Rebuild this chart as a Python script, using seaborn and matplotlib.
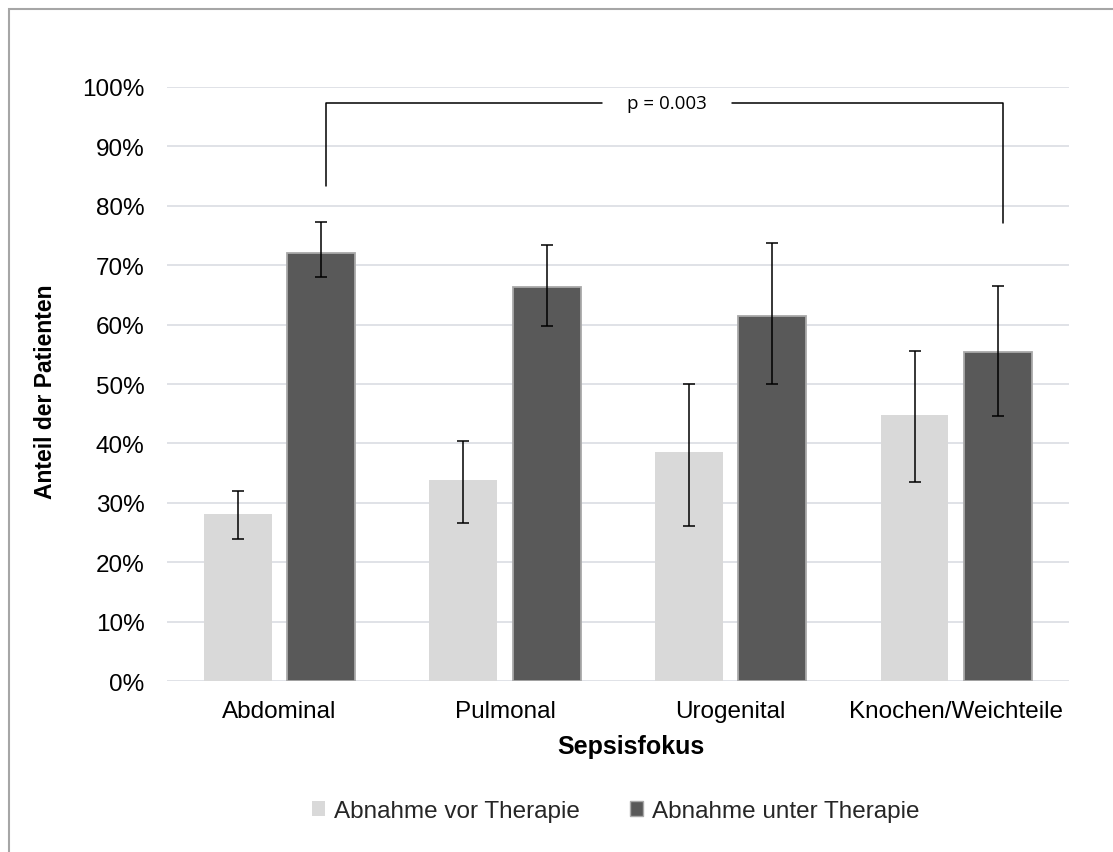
import matplotlib
matplotlib.use("Agg")
import matplotlib.pyplot as plt
from matplotlib.patches import Rectangle, Patch
from matplotlib.ticker import FuncFormatter, MultipleLocator
import numpy as np
import pandas as pd
import seaborn as sns

# Data (percent of patients) with confidence intervals
categories = ["Abdominal", "Pulmonal", "Urogenital", "Knochen/Weichteile"]
groups = ["Abnahme vor Therapie", "Abnahme unter Therapie"]

vor = [28.1, 33.9, 38.6, 44.8]
vor_lo = [24.0, 26.6, 26.1, 33.6]
vor_hi = [32.1, 40.4, 50.0, 55.5]

unter = [72.0, 66.3, 61.4, 55.3]
unter_lo = [68.0, 59.7, 50.0, 44.6]
unter_hi = [77.3, 73.4, 73.7, 66.5]

p_text = "p = 0.003"

LIGHT = "#d9d9d9"
DARK = "#595959"
GRID = "#dadde3"

sns.set_theme(style="white")
plt.rcParams["font.family"] = ["Liberation Sans", "DejaVu Sans"]

df = pd.DataFrame({
    "Sepsisfokus": categories * 2,
    "Anteil": vor + unter,
    "Zeitpunkt": [groups[0]] * len(categories) + [groups[1]] * len(categories),
})

fig = plt.figure(figsize=(11.13, 8.53), dpi=100)
ax = fig.add_axes([0.1498, 0.1999, 0.8107, 0.6975])

sns.barplot(data=df, x="Sepsisfokus", y="Anteil", hue="Zeitpunkt",
            order=categories, hue_order=groups, palette=[LIGHT, DARK],
            width=0.74, gap=0.187, errorbar=None, saturation=1,
            legend=False, ax=ax, zorder=2)

# Bar edges and error bars
lows = [vor_lo, unter_lo]
highs = [vor_hi, unter_hi]
vals = [vor, unter]
bar_containers = list(ax.containers)
for k, cont in enumerate(bar_containers):
    xs = []
    for bar in cont.patches:
        if k == 1:
            bar.set_edgecolor("#a9a9a9")
            bar.set_linewidth(1.3)
        else:
            bar.set_edgecolor("none")
        xs.append(bar.get_x() + bar.get_width() / 2)
    v = np.array(vals[k])
    err = np.vstack([v - np.array(lows[k]), np.array(highs[k]) - v])
    ax.errorbar(xs, v, yerr=err, fmt="none", ecolor="black",
                elinewidth=1.1, capsize=4, capthick=1.1, zorder=3)

ax.set_ylim(0, 100)
ax.set_xlim(-0.5, len(categories) - 0.5)
ax.yaxis.set_major_locator(MultipleLocator(10))
ax.yaxis.set_major_formatter(FuncFormatter(lambda v, _: f"{v:.0f}%"))
ax.grid(axis="y", color=GRID, linewidth=1.2, zorder=0)
ax.set_axisbelow(True)
for s in ax.spines.values():
    s.set_visible(False)
ax.tick_params(axis="both", length=0, labelsize=17.5, colors="black")
ax.tick_params(axis="y", pad=16)
ax.tick_params(axis="x", pad=13)

ax.set_xlabel("Sepsisfokus", fontsize=18, fontweight="bold", color="black")
ax.xaxis.set_label_coords(0.5146, -0.088)
ax.set_ylabel("Anteil der Patienten", fontsize=16.5, fontweight="bold", color="black")
ax.yaxis.set_label_coords(-0.122, 0.489)

# Significance bracket between Abdominal and Knochen/Weichteile
xl, xr = 0.205, 3.209
y_top = 97.2
ax.plot([xl, xl, 1.431], [83.2, y_top, y_top], color="black", lw=1.1,
        clip_on=False, zorder=4)
ax.plot([2.006, xr, xr], [y_top, y_top, 77.0], color="black", lw=1.1,
        clip_on=False, zorder=4)
ax.text(1.718, y_top, p_text, ha="center", va="center", fontsize=13.5,
        family=["Open Sans", "DejaVu Sans"], color="black", zorder=4)

# Legend
handles = [Patch(facecolor=LIGHT, edgecolor="none"),
           Patch(facecolor=DARK, edgecolor="#a9a9a9", linewidth=1)]
fig.legend(handles, groups, loc="center", bbox_to_anchor=(0.5535, 0.048),
           ncol=2, frameon=False, fontsize=17.5, handlelength=0.54,
           handleheight=0.54, handletextpad=0.37, columnspacing=2.06)

# Chart frame
fig.patches.append(Rectangle((8.5 / 1113, -0.1), 1.2, 1.1 - 10.5 / 853,
                             transform=fig.transFigure, fill=False,
                             edgecolor="#a6a6a6", linewidth=1.5, zorder=0))

fig.savefig("out.png", dpi=100)
